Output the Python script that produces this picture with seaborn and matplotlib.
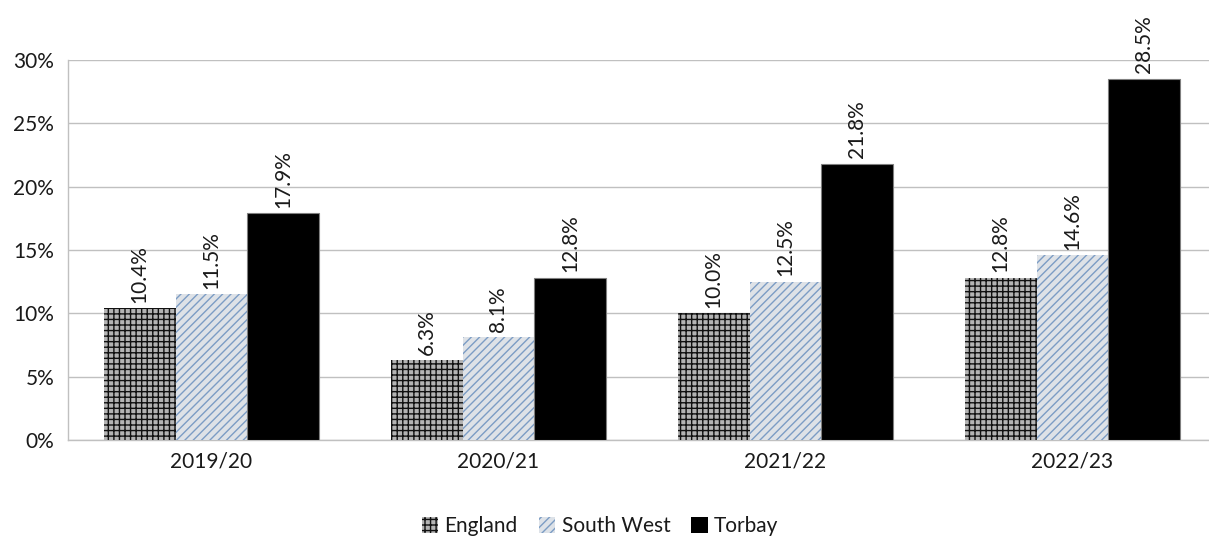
import matplotlib
matplotlib.use("Agg")
import matplotlib.pyplot as plt
from matplotlib.patches import Patch
from matplotlib.ticker import FixedLocator, FuncFormatter
import pandas as pd
import seaborn as sns

years = ["2019/20", "2020/21", "2021/22", "2022/23"]
areas = ["England", "South West", "Torbay"]
england = [10.4, 6.3, 10.0, 12.8]
south_west = [11.5, 8.1, 12.5, 14.6]
torbay = [17.9, 12.8, 21.8, 28.5]
y_ticks = [0, 5, 10, 15, 20, 25, 30]

df = pd.DataFrame({
    "year": years * 3,
    "area": [a for a in areas for _ in years],
    "value": england + south_west + torbay,
})

sns.set_theme(style="white")
plt.rcParams["font.family"] = ["Lato", "DejaVu Sans"]
plt.rcParams["hatch.linewidth"] = 1.0

fills = {"England": "#b4b4b4", "South West": "#dde2e8", "Torbay": "#000000"}
hatch_cols = {"England": "#111111", "South West": "#7c9cc4", "Torbay": "#7f7f7f"}
hatches = {"England": "+++", "South West": "////", "Torbay": ""}

fig = plt.figure(figsize=(12.09, 5.38), dpi=100)
ax = fig.add_axes([0.05624, 0.18216, 0.9495, 0.7063])

sns.barplot(data=df, x="year", y="value", hue="area", hue_order=areas,
            order=years, palette=fills, width=0.75, gap=0, ax=ax,
            legend=False, errorbar=None, zorder=3)

for area, cont in zip(areas, ax.containers):
    for bar in cont:
        bar.set_hatch(hatches[area])
        bar.set_edgecolor(hatch_cols[area])
        bar.set_linewidth(0.8 if area == "Torbay" else 0)
    ax.bar_label(cont, labels=[f"{v:.1f}%" for v in cont.datavalues],
                 rotation=90, padding=4, fontsize=15, color="#1a1a1a")

ax.set_ylim(0, 30)
ax.set_xlim(-0.5, len(years) - 0.5)
ax.set_yticks(y_ticks)
ax.yaxis.set_major_formatter(FuncFormatter(lambda v, _: f"{v:.0f}%"))
ax.set_xlabel("")
ax.set_ylabel("")

grid_col = "#c0c0c0"
ax.yaxis.grid(True, color=grid_col, linewidth=1, zorder=0)
ax.xaxis.grid(False)
for s in ["top", "right"]:
    ax.spines[s].set_visible(False)
for s in ["left", "bottom"]:
    ax.spines[s].set_color(grid_col)
    ax.spines[s].set_linewidth(1)

ax.tick_params(axis="y", which="major", length=6, color=grid_col,
               labelsize=15, labelcolor="#1a1a1a", pad=4)
ax.tick_params(axis="x", which="major", length=0, labelsize=15,
               labelcolor="#1a1a1a", pad=8)
ax.xaxis.set_minor_locator(FixedLocator([i - 0.5 for i in range(len(years) + 1)]))
ax.tick_params(axis="x", which="minor", length=6, color=grid_col, width=1)

handles = [Patch(facecolor=fills[a], edgecolor=hatch_cols[a], hatch=hatches[a],
                 linewidth=0, label=a) for a in areas]
fig.legend(handles=handles, loc="center", bbox_to_anchor=(600 / 1209, 1 - 526 / 538),
           ncol=3, frameon=False, fontsize=15, handlelength=0.8, handleheight=0.8,
           handletextpad=0.3, columnspacing=1.0, labelcolor="#1a1a1a")

fig.savefig("out.png", dpi=100)
